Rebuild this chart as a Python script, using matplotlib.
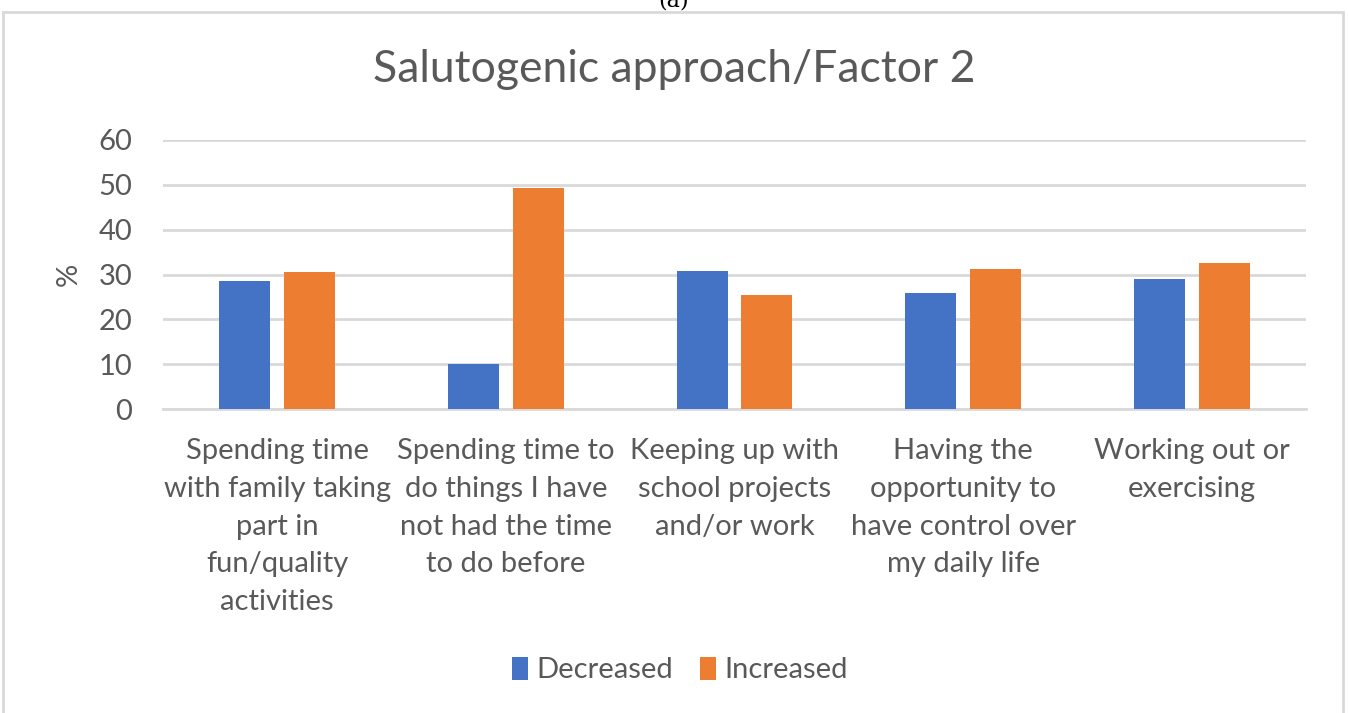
import numpy as np
import matplotlib.pyplot as plt
from matplotlib.patches import Rectangle

categories = ["Spending time\nwith family taking\npart in\nfun/quality\nactivities",
              "Spending time to\ndo things I have\nnot had the time\nto do before",
              "Keeping up with\nschool projects\nand/or work",
              "Having the\nopportunity to\nhave control over\nmy daily life",
              "Working out or\nexercising"]
decreased = [28.5, 10.0, 30.7, 25.9, 29.1]
increased = [30.5, 49.2, 25.5, 31.2, 32.6]
yticks = [0, 10, 20, 30, 40, 50, 60]

plt.rcParams['font.family'] = ['Lato', 'DejaVu Sans']
txt = '#595959'
grid = '#d9d9d9'

fig = plt.figure(figsize=(13.48, 7.13), dpi=100)
# chart border
fig.patches.append(Rectangle((3/1348, -0.01), 1340/1348, 1 - 12/713 + 0.01,
                             transform=fig.transFigure, fill=False,
                             edgecolor=grid, linewidth=2))
fig.text(0.5, 1.0, "(a)", ha='center', va='center', fontsize=16, color='black',
         family='DejaVu Serif')

ax = fig.add_axes([163/1348, 1 - 409/713, (1306-163)/1348, (409-140)/713])
x = np.arange(len(categories))
w = 0.223
ax.bar(x - 0.142, decreased, w, color='#4472C4', label='Decreased', zorder=3)
ax.bar(x + 0.142, increased, w, color='#ED7D31', label='Increased', zorder=3)

ax.set_xlim(-0.5, len(categories) - 0.5)
ax.set_ylim(0, 60)
ax.set_yticks(yticks)
ax.yaxis.grid(True, color=grid, linewidth=2, zorder=0)
for s in ['top', 'right', 'left']:
    ax.spines[s].set_visible(False)
ax.spines['bottom'].set_color(grid)
ax.spines['bottom'].set_linewidth(2)
ax.tick_params(axis='both', length=0, colors=txt, labelsize=21)
ax.tick_params(axis='y', pad=22)
ax.tick_params(axis='x', pad=21)
ax.set_xticks(x)
ax.set_xticklabels(categories, fontsize=21, color=txt, linespacing=1.56, va='top')
ax.set_ylabel('%', fontsize=21, color=txt, labelpad=12)

fig.text(0.5, 1 - 70/713, "Salutogenic approach/Factor 2", ha='center', va='center',
         fontsize=32, color=txt)

fig.legend(loc='center', bbox_to_anchor=(680/1348, 1 - 670/713), ncol=2, frameon=False,
           fontsize=21, labelcolor=txt, handlelength=0.55, handleheight=0.85,
           handletextpad=0.3, columnspacing=0.9)

fig.savefig('out.png', dpi=100)
